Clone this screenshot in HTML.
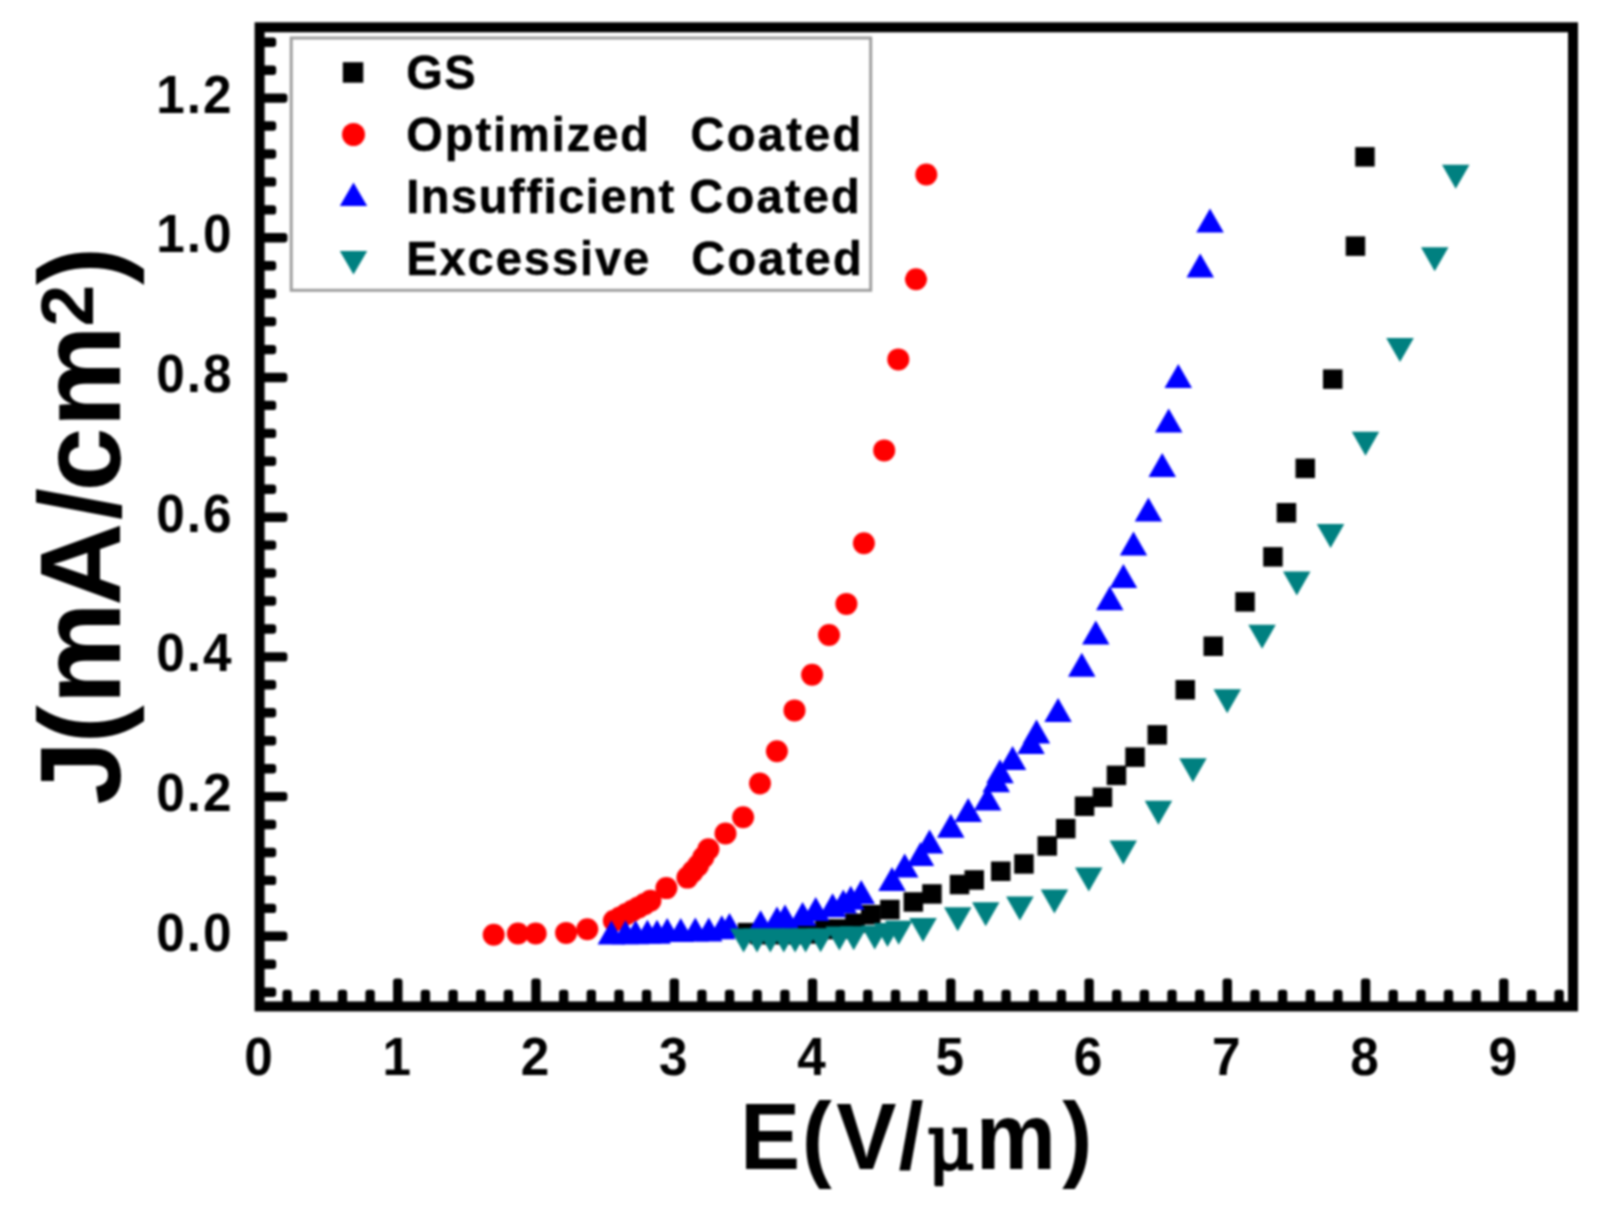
<!DOCTYPE html>
<html lang="en"><head><meta charset="utf-8"><title>J-E field emission plot</title>
<style>
html,body{margin:0;padding:0;background:#fff;}
body{width:1598px;height:1207px;overflow:hidden;}
svg{display:block;}
text{font-family:"Liberation Sans",Arial,Helvetica,sans-serif;font-weight:bold;fill:#000;}
.tk{font-size:54px;}
.ty{letter-spacing:2.1px;}
.lg{font-size:48.5px;letter-spacing:2.3px;stroke:#000;stroke-width:0.5px;stroke-linejoin:round;}
.mu{font-family:"DejaVu Serif","Liberation Serif",serif;font-weight:normal;font-size:76px;stroke:#000;stroke-width:2.5px;stroke-linejoin:round;}
</style></head><body>
<svg width="1598" height="1207" viewBox="0 0 1598 1207">
<rect x="0" y="0" width="1598" height="1207" fill="#fff"/>
<defs><filter id="soft" color-interpolation-filters="sRGB" x="0" y="0" width="1598" height="1207" filterUnits="userSpaceOnUse"><feGaussianBlur stdDeviation="1.1" color-interpolation-filters="sRGB"/></filter></defs>
<g filter="url(#soft)">
<g fill="#000">
<rect x="259.6" y="987.5" width="16.6" height="9.4" rx="3.2"/>
<rect x="259.6" y="959.5" width="16.6" height="9.4" rx="3.2"/>
<rect x="259.6" y="931.6" width="27.8" height="9.4" rx="3.2"/>
<rect x="259.6" y="903.7" width="16.6" height="9.4" rx="3.2"/>
<rect x="259.6" y="875.7" width="16.6" height="9.4" rx="3.2"/>
<rect x="259.6" y="847.8" width="16.6" height="9.4" rx="3.2"/>
<rect x="259.6" y="819.8" width="16.6" height="9.4" rx="3.2"/>
<rect x="259.6" y="791.9" width="27.8" height="9.4" rx="3.2"/>
<rect x="259.6" y="764.0" width="16.6" height="9.4" rx="3.2"/>
<rect x="259.6" y="736.0" width="16.6" height="9.4" rx="3.2"/>
<rect x="259.6" y="708.1" width="16.6" height="9.4" rx="3.2"/>
<rect x="259.6" y="680.1" width="16.6" height="9.4" rx="3.2"/>
<rect x="259.6" y="652.2" width="27.8" height="9.4" rx="3.2"/>
<rect x="259.6" y="624.3" width="16.6" height="9.4" rx="3.2"/>
<rect x="259.6" y="596.3" width="16.6" height="9.4" rx="3.2"/>
<rect x="259.6" y="568.4" width="16.6" height="9.4" rx="3.2"/>
<rect x="259.6" y="540.4" width="16.6" height="9.4" rx="3.2"/>
<rect x="259.6" y="512.5" width="27.8" height="9.4" rx="3.2"/>
<rect x="259.6" y="484.6" width="16.6" height="9.4" rx="3.2"/>
<rect x="259.6" y="456.6" width="16.6" height="9.4" rx="3.2"/>
<rect x="259.6" y="428.7" width="16.6" height="9.4" rx="3.2"/>
<rect x="259.6" y="400.7" width="16.6" height="9.4" rx="3.2"/>
<rect x="259.6" y="372.8" width="27.8" height="9.4" rx="3.2"/>
<rect x="259.6" y="344.9" width="16.6" height="9.4" rx="3.2"/>
<rect x="259.6" y="316.9" width="16.6" height="9.4" rx="3.2"/>
<rect x="259.6" y="289.0" width="16.6" height="9.4" rx="3.2"/>
<rect x="259.6" y="261.0" width="16.6" height="9.4" rx="3.2"/>
<rect x="259.6" y="233.1" width="27.8" height="9.4" rx="3.2"/>
<rect x="259.6" y="205.2" width="16.6" height="9.4" rx="3.2"/>
<rect x="259.6" y="177.2" width="16.6" height="9.4" rx="3.2"/>
<rect x="259.6" y="149.3" width="16.6" height="9.4" rx="3.2"/>
<rect x="259.6" y="121.3" width="16.6" height="9.4" rx="3.2"/>
<rect x="259.6" y="93.4" width="27.8" height="9.4" rx="3.2"/>
<rect x="259.6" y="65.5" width="16.6" height="9.4" rx="3.2"/>
<rect x="259.6" y="37.5" width="16.6" height="9.4" rx="3.2"/>
<rect x="282.5" y="989.8" width="9.4" height="16.6" rx="3.2"/>
<rect x="310.1" y="989.8" width="9.4" height="16.6" rx="3.2"/>
<rect x="337.8" y="989.8" width="9.4" height="16.6" rx="3.2"/>
<rect x="365.4" y="989.8" width="9.4" height="16.6" rx="3.2"/>
<rect x="393.1" y="978.6" width="9.4" height="27.8" rx="3.2"/>
<rect x="420.7" y="989.8" width="9.4" height="16.6" rx="3.2"/>
<rect x="448.4" y="989.8" width="9.4" height="16.6" rx="3.2"/>
<rect x="476.0" y="989.8" width="9.4" height="16.6" rx="3.2"/>
<rect x="503.7" y="989.8" width="9.4" height="16.6" rx="3.2"/>
<rect x="531.3" y="978.6" width="9.4" height="27.8" rx="3.2"/>
<rect x="559.0" y="989.8" width="9.4" height="16.6" rx="3.2"/>
<rect x="586.6" y="989.8" width="9.4" height="16.6" rx="3.2"/>
<rect x="614.3" y="989.8" width="9.4" height="16.6" rx="3.2"/>
<rect x="641.9" y="989.8" width="9.4" height="16.6" rx="3.2"/>
<rect x="669.6" y="978.6" width="9.4" height="27.8" rx="3.2"/>
<rect x="697.2" y="989.8" width="9.4" height="16.6" rx="3.2"/>
<rect x="724.9" y="989.8" width="9.4" height="16.6" rx="3.2"/>
<rect x="752.5" y="989.8" width="9.4" height="16.6" rx="3.2"/>
<rect x="780.2" y="989.8" width="9.4" height="16.6" rx="3.2"/>
<rect x="807.8" y="978.6" width="9.4" height="27.8" rx="3.2"/>
<rect x="835.5" y="989.8" width="9.4" height="16.6" rx="3.2"/>
<rect x="863.1" y="989.8" width="9.4" height="16.6" rx="3.2"/>
<rect x="890.8" y="989.8" width="9.4" height="16.6" rx="3.2"/>
<rect x="918.4" y="989.8" width="9.4" height="16.6" rx="3.2"/>
<rect x="946.1" y="978.6" width="9.4" height="27.8" rx="3.2"/>
<rect x="973.8" y="989.8" width="9.4" height="16.6" rx="3.2"/>
<rect x="1001.4" y="989.8" width="9.4" height="16.6" rx="3.2"/>
<rect x="1029.1" y="989.8" width="9.4" height="16.6" rx="3.2"/>
<rect x="1056.7" y="989.8" width="9.4" height="16.6" rx="3.2"/>
<rect x="1084.4" y="978.6" width="9.4" height="27.8" rx="3.2"/>
<rect x="1112.0" y="989.8" width="9.4" height="16.6" rx="3.2"/>
<rect x="1139.7" y="989.8" width="9.4" height="16.6" rx="3.2"/>
<rect x="1167.3" y="989.8" width="9.4" height="16.6" rx="3.2"/>
<rect x="1195.0" y="989.8" width="9.4" height="16.6" rx="3.2"/>
<rect x="1222.6" y="978.6" width="9.4" height="27.8" rx="3.2"/>
<rect x="1250.3" y="989.8" width="9.4" height="16.6" rx="3.2"/>
<rect x="1277.9" y="989.8" width="9.4" height="16.6" rx="3.2"/>
<rect x="1305.6" y="989.8" width="9.4" height="16.6" rx="3.2"/>
<rect x="1333.2" y="989.8" width="9.4" height="16.6" rx="3.2"/>
<rect x="1360.9" y="978.6" width="9.4" height="27.8" rx="3.2"/>
<rect x="1388.5" y="989.8" width="9.4" height="16.6" rx="3.2"/>
<rect x="1416.2" y="989.8" width="9.4" height="16.6" rx="3.2"/>
<rect x="1443.8" y="989.8" width="9.4" height="16.6" rx="3.2"/>
<rect x="1471.5" y="989.8" width="9.4" height="16.6" rx="3.2"/>
<rect x="1499.1" y="978.6" width="9.4" height="27.8" rx="3.2"/>
<rect x="1526.8" y="989.8" width="9.4" height="16.6" rx="3.2"/>
<rect x="1554.4" y="989.8" width="9.4" height="16.6" rx="3.2"/>
</g>
<rect x="259.6" y="27.3" width="1313.4" height="979.1" fill="none" stroke="#000" stroke-width="10.0"/>
<g class="tk ty" text-anchor="end">
<text transform="translate(233.6 950.7) scale(0.95 1)">0.0</text>
<text transform="translate(233.6 811.0) scale(0.95 1)">0.2</text>
<text transform="translate(233.6 671.3) scale(0.95 1)">0.4</text>
<text transform="translate(233.6 531.6) scale(0.95 1)">0.6</text>
<text transform="translate(233.6 391.9) scale(0.95 1)">0.8</text>
<text transform="translate(233.6 252.2) scale(0.95 1)">1.0</text>
<text transform="translate(233.6 112.5) scale(0.95 1)">1.2</text>
</g>
<g class="tk" text-anchor="middle">
<text transform="translate(258.5 1075) scale(0.95 1)">0</text>
<text transform="translate(396.8 1075) scale(0.95 1)">1</text>
<text transform="translate(535.0 1075) scale(0.95 1)">2</text>
<text transform="translate(673.3 1075) scale(0.95 1)">3</text>
<text transform="translate(811.5 1075) scale(0.95 1)">4</text>
<text transform="translate(949.8 1075) scale(0.95 1)">5</text>
<text transform="translate(1088.1 1075) scale(0.95 1)">6</text>
<text transform="translate(1226.3 1075) scale(0.95 1)">7</text>
<text transform="translate(1364.6 1075) scale(0.95 1)">8</text>
<text transform="translate(1502.8 1075) scale(0.95 1)">9</text>
</g>
<text transform="translate(740.1 1169) scale(0.96 1)" font-size="94" x="0 64.1 100.2 165.1 195 245.5 335.7">E(V/<tspan class="mu">μ</tspan>m)</text>
<text transform="translate(120 530) rotate(-90)" font-size="115" x="-274.7 -213.4 -174.5 -75.8 10.1 38.4 102.5 203.6 245.0">J(mA/cm<tspan font-size="75" dy="-27.5">2</tspan><tspan dy="27.5">)</tspan></text>
<g fill="#000"><rect x="737.8" y="922.9" width="19.5" height="19.5"/><rect x="750.2" y="924.8" width="19.5" height="19.5"/><rect x="763.2" y="924.8" width="19.5" height="19.5"/><rect x="776.2" y="924.8" width="19.5" height="19.5"/><rect x="789.2" y="924.8" width="19.5" height="19.5"/><rect x="802.2" y="924.2" width="19.5" height="19.5"/><rect x="815.2" y="919.8" width="19.5" height="19.5"/><rect x="828.2" y="919.2" width="19.5" height="19.5"/><rect x="845.2" y="913.5" width="19.5" height="19.5"/><rect x="861.0" y="905.0" width="19.5" height="19.5"/><rect x="880.1" y="899.8" width="19.5" height="19.5"/><rect x="903.6" y="892.2" width="19.5" height="19.5"/><rect x="922.2" y="884.2" width="19.5" height="19.5"/><rect x="949.8" y="874.8" width="19.5" height="19.5"/><rect x="964.5" y="870.2" width="19.5" height="19.5"/><rect x="991.0" y="861.5" width="19.5" height="19.5"/><rect x="1014.2" y="854.2" width="19.5" height="19.5"/><rect x="1037.5" y="836.2" width="19.5" height="19.5"/><rect x="1056.0" y="818.9" width="19.5" height="19.5"/><rect x="1074.8" y="796.5" width="19.5" height="19.5"/><rect x="1092.7" y="787.5" width="19.5" height="19.5"/><rect x="1106.7" y="765.6" width="19.5" height="19.5"/><rect x="1125.3" y="747.4" width="19.5" height="19.5"/><rect x="1147.5" y="725.1" width="19.5" height="19.5"/><rect x="1175.5" y="680.0" width="19.5" height="19.5"/><rect x="1203.5" y="636.5" width="19.5" height="19.5"/><rect x="1235.3" y="592.1" width="19.5" height="19.5"/><rect x="1263.2" y="547.1" width="19.5" height="19.5"/><rect x="1276.7" y="503.0" width="19.5" height="19.5"/><rect x="1295.5" y="458.6" width="19.5" height="19.5"/><rect x="1323.0" y="369.4" width="19.5" height="19.5"/><rect x="1345.7" y="236.4" width="19.5" height="19.5"/><rect x="1355.2" y="147.1" width="19.5" height="19.5"/></g>
<g fill="#ff0000"><circle cx="493.7" cy="934.8" r="11.0"/><circle cx="517.9" cy="933.5" r="11.0"/><circle cx="535.7" cy="933.5" r="11.0"/><circle cx="566.1" cy="932.9" r="11.0"/><circle cx="587.3" cy="929.2" r="11.0"/><circle cx="613.9" cy="920.8" r="11.0"/><circle cx="620.0" cy="917.5" r="11.0"/><circle cx="626.2" cy="914.1" r="11.0"/><circle cx="632.3" cy="910.8" r="11.0"/><circle cx="638.4" cy="907.4" r="11.0"/><circle cx="644.5" cy="904.1" r="11.0"/><circle cx="650.4" cy="900.8" r="11.0"/><circle cx="666.4" cy="888.1" r="11.0"/><circle cx="687.4" cy="877.6" r="11.0"/><circle cx="692.7" cy="871.6" r="11.0"/><circle cx="698.0" cy="865.6" r="11.0"/><circle cx="703.2" cy="857.5" r="11.0"/><circle cx="708.4" cy="849.3" r="11.0"/><circle cx="725.5" cy="833.5" r="11.0"/><circle cx="743.1" cy="817.3" r="11.0"/><circle cx="760.0" cy="783.5" r="11.0"/><circle cx="776.9" cy="751.3" r="11.0"/><circle cx="794.5" cy="710.4" r="11.0"/><circle cx="812.1" cy="674.7" r="11.0"/><circle cx="829.0" cy="635.0" r="11.0"/><circle cx="846.4" cy="603.9" r="11.0"/><circle cx="863.9" cy="543.3" r="11.0"/><circle cx="884.2" cy="450.4" r="11.0"/><circle cx="898.3" cy="359.4" r="11.0"/><circle cx="916.0" cy="279.3" r="11.0"/><circle cx="926.3" cy="174.5" r="11.0"/></g>
<g fill="#0000ff"><polygon points="611.4,920.5 597.6,944.5 625.1,944.5"/><polygon points="625.5,920.3 611.8,944.3 639.2,944.3"/><polygon points="635.6,920.3 621.9,944.3 649.4,944.3"/><polygon points="647.4,919.8 633.6,943.8 661.1,943.8"/><polygon points="657.0,919.8 643.2,943.8 670.8,943.8"/><polygon points="667.2,918.1 653.5,942.1 681.0,942.1"/><polygon points="680.7,918.1 667.0,942.1 694.5,942.1"/><polygon points="695.3,917.6 681.5,941.6 709.0,941.6"/><polygon points="708.8,917.6 695.0,941.6 722.5,941.6"/><polygon points="721.8,915.3 708.0,939.3 735.5,939.3"/><polygon points="729.5,913.1 715.8,937.1 743.2,937.1"/><polygon points="760.6,910.2 746.9,934.2 774.4,934.2"/><polygon points="777.0,906.4 763.2,930.4 790.8,930.4"/><polygon points="785.0,904.4 771.2,928.4 798.8,928.4"/><polygon points="802.6,902.0 788.9,926.0 816.4,926.0"/><polygon points="815.7,897.0 802.0,921.0 829.5,921.0"/><polygon points="832.6,893.2 818.9,917.2 846.4,917.2"/><polygon points="843.3,889.4 829.5,913.4 857.0,913.4"/><polygon points="850.8,885.7 837.0,909.7 864.5,909.7"/><polygon points="861.2,880.1 847.5,904.1 875.0,904.1"/><polygon points="892.0,866.9 878.2,890.9 905.8,890.9"/><polygon points="904.7,853.6 891.0,877.6 918.5,877.6"/><polygon points="920.5,842.0 906.8,866.0 934.2,866.0"/><polygon points="929.6,829.6 915.9,853.6 943.4,853.6"/><polygon points="950.8,813.8 937.0,837.8 964.5,837.8"/><polygon points="968.2,798.1 954.5,822.1 982.0,822.1"/><polygon points="987.6,786.5 973.9,810.5 1001.4,810.5"/><polygon points="996.3,768.3 982.5,792.3 1010.0,792.3"/><polygon points="1000.0,759.2 986.2,783.2 1013.8,783.2"/><polygon points="1012.6,746.0 998.9,770.0 1026.3,770.0"/><polygon points="1031.1,730.1 1017.3,754.1 1044.8,754.1"/><polygon points="1036.5,719.6 1022.8,743.6 1050.2,743.6"/><polygon points="1058.1,698.0 1044.3,722.0 1071.8,722.0"/><polygon points="1081.8,652.7 1068.0,676.7 1095.5,676.7"/><polygon points="1095.8,620.4 1082.0,644.4 1109.5,644.4"/><polygon points="1109.8,586.3 1096.0,610.3 1123.5,610.3"/><polygon points="1123.4,564.0 1109.7,588.0 1137.2,588.0"/><polygon points="1133.5,531.5 1119.8,555.5 1147.2,555.5"/><polygon points="1148.4,497.4 1134.7,521.4 1162.2,521.4"/><polygon points="1162.2,453.0 1148.5,477.0 1176.0,477.0"/><polygon points="1168.7,408.5 1155.0,432.5 1182.5,432.5"/><polygon points="1178.3,364.0 1164.5,388.0 1192.0,388.0"/><polygon points="1200.2,253.5 1186.5,277.5 1214.0,277.5"/><polygon points="1210.0,208.5 1196.2,232.5 1223.8,232.5"/></g>
<g fill="#008080"><polygon points="743.6,952.5 729.9,928.5 757.4,928.5"/><polygon points="757.0,952.5 743.2,928.5 770.8,928.5"/><polygon points="770.3,952.5 756.5,928.5 784.0,928.5"/><polygon points="783.8,952.5 770.0,928.5 797.5,928.5"/><polygon points="795.1,952.5 781.4,928.5 808.9,928.5"/><polygon points="805.6,952.5 791.9,928.5 819.4,928.5"/><polygon points="820.6,952.2 806.9,928.2 834.4,928.2"/><polygon points="839.4,950.5 825.6,926.5 853.1,926.5"/><polygon points="853.7,950.3 840.0,926.3 867.5,926.3"/><polygon points="874.7,949.4 861.0,925.4 888.5,925.4"/><polygon points="887.5,947.0 873.8,923.0 901.2,923.0"/><polygon points="898.7,944.8 885.0,920.8 912.5,920.8"/><polygon points="923.0,942.0 909.2,918.0 936.8,918.0"/><polygon points="957.7,931.3 944.0,907.3 971.5,907.3"/><polygon points="985.7,926.3 972.0,902.3 999.5,902.3"/><polygon points="1019.9,920.5 1006.1,896.5 1033.7,896.5"/><polygon points="1054.4,913.4 1040.7,889.4 1068.2,889.4"/><polygon points="1088.8,891.5 1075.0,867.5 1102.5,867.5"/><polygon points="1123.3,864.6 1109.5,840.6 1137.0,840.6"/><polygon points="1158.4,824.7 1144.7,800.7 1172.2,800.7"/><polygon points="1192.9,782.2 1179.2,758.2 1206.7,758.2"/><polygon points="1227.2,713.3 1213.5,689.3 1241.0,689.3"/><polygon points="1262.1,648.8 1248.3,624.8 1275.8,624.8"/><polygon points="1296.8,595.4 1283.0,571.4 1310.5,571.4"/><polygon points="1330.6,548.0 1316.8,524.0 1344.3,524.0"/><polygon points="1365.5,455.8 1351.8,431.8 1379.2,431.8"/><polygon points="1400.0,362.0 1386.2,338.0 1413.8,338.0"/><polygon points="1434.7,271.2 1421.0,247.2 1448.5,247.2"/><polygon points="1455.7,188.7 1442.0,164.7 1469.5,164.7"/></g>
<rect x="291.2" y="38" width="579.5" height="252.3" fill="#fff" stroke="#9e9e9e" stroke-width="3"/>
<g fill="#000"><rect x="342.8" y="62.2" width="20.5" height="20.5"/></g>
<g fill="#ff0000"><circle cx="353.5" cy="134.5" r="11.5"/></g>
<g fill="#0000ff"><polygon points="353.5,182.5 339.8,206.0 367.2,206.0"/></g>
<g fill="#008080"><polygon points="353.5,274.6 339.8,251.1 367.2,251.1"/></g>
<g class="lg">
<text transform="translate(406.2 88.8) scale(0.97 1)"><tspan style="letter-spacing:1.6px">GS</tspan></text>
<text transform="translate(406.2 151) scale(0.97 1)"><tspan style="letter-spacing:2.0px">Optimized</tspan> <tspan x="293.2">Coated</tspan></text>
<text transform="translate(406.2 212.6) scale(0.97 1)"><tspan style="letter-spacing:1.6px">Insufficient</tspan> <tspan x="291.8">Coated</tspan></text>
<text transform="translate(406.2 274.5) scale(0.97 1)"><tspan style="letter-spacing:2.0px">Excessive</tspan> <tspan x="293.8">Coated</tspan></text>
</g>
</g>
</svg>
</body></html>
